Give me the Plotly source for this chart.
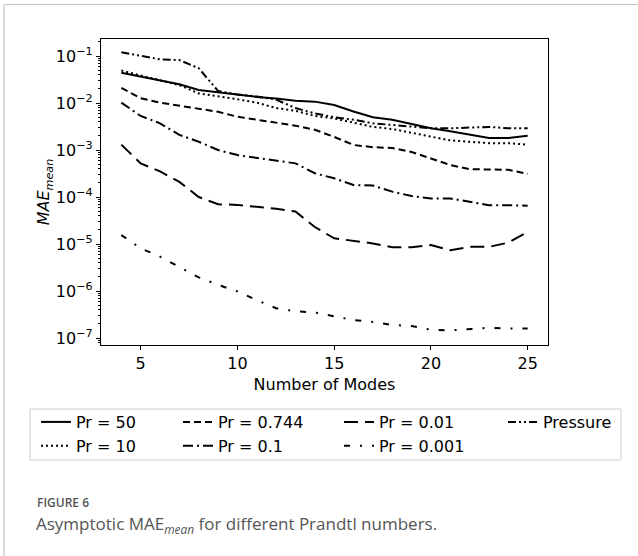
import plotly.graph_objects as go

# ---------------- data ----------------
modes = list(range(4, 26))

pr50 = [0.044, 0.036, 0.030, 0.025, 0.019, 0.017, 0.015, 0.0135, 0.0125, 0.0112, 0.0107,
        0.0091, 0.0066, 0.0050, 0.0044, 0.0036, 0.0029, 0.0025, 0.0021, 0.0018, 0.0018, 0.0020]
pr10 = [0.049, 0.039, 0.031, 0.024, 0.016, 0.014, 0.012, 0.0102, 0.0078, 0.0068, 0.0053,
        0.0047, 0.0038, 0.0031, 0.0028, 0.0023, 0.0019, 0.0016, 0.0015, 0.0014, 0.0014, 0.0013]
pr0744 = [0.021, 0.0126, 0.0102, 0.0087, 0.0077, 0.0065, 0.0051, 0.0044, 0.0037, 0.0033, 0.0027,
          0.0019, 0.00128, 0.00115, 0.0011, 0.00091, 0.00066, 0.00048, 0.00039, 0.00038, 0.00038, 0.00031]
pr01 = [0.0102, 0.0053, 0.0037, 0.0021, 0.0015, 0.0010, 0.00078, 0.00068, 0.00058, 0.00052, 0.00032,
        0.00025, 0.00018, 0.000175, 0.00013, 0.000105, 0.000093, 0.000093, 0.000079, 0.000067, 0.000067, 0.000065]
pr001 = [0.0013, 0.00052, 0.00035, 0.00021, 0.0001, 0.00007, 0.000068, 0.000062, 0.000056, 0.000049, 0.000023,
         0.0000132, 0.0000117, 0.0000103, 0.0000085, 0.0000085, 0.0000095, 0.0000074, 0.0000087, 0.0000087,
         0.0000107, 0.000018]
pr0001 = [1.55e-5, 8.1e-6, 5.4e-6, 3.3e-6, 1.95e-6, 1.35e-6, 9.8e-7, 6.4e-7, 4.3e-7, 3.7e-7, 3.5e-7,
          2.9e-7, 2.4e-7, 2.2e-7, 1.9e-7, 1.8e-7, 1.5e-7, 1.45e-7, 1.52e-7, 1.65e-7, 1.6e-7, 1.6e-7]
pressure = [0.12, 0.10, 0.085, 0.082, 0.055, 0.018, 0.0152, 0.0137, 0.0118, 0.0078, 0.006,
            0.005, 0.0044, 0.0037, 0.0034, 0.0031, 0.0029, 0.0029, 0.0030, 0.0031, 0.0029, 0.0029]

series_names = ["Pr = 50", "Pr = 10", "Pr = 0.744", "Pr = 0.1", "Pr = 0.01", "Pr = 0.001", "Pressure"]
series_values = [pr50, pr10, pr0744, pr01, pr001, pr0001, pressure]

x_tickvals = [5, 10, 15, 20, 25]
y_tickvals = [1e-7, 1e-6, 1e-5, 1e-4, 1e-3, 1e-2, 1e-1]
y_ticktext = ["10<sup>\u22127</sup>", "10<sup>\u22126</sup>", "10<sup>\u22125</sup>", "10<sup>\u22124</sup>",
              "10<sup>\u22123</sup>", "10<sup>\u22122</sup>", "10<sup>\u22121</sup>"]

# ---------------- styles ----------------
dashes = ["solid", "2px,3px", "7px,4px", "10px,4px,2px,4px", "14px,7px",
          "6px,10px,2px,10px", "8px,3px,2px,3px,2px,3px"]
legend_ids = ["legend", "legend", "legend2", "legend2", "legend3", "legend3", "legend4"]

W, H = 638, 556
L, R, T, B = 101, 548, 39, 345
PW, PH = R - L, B - T


def px_x(px):
    return (px - L) / PW


def px_y(py):
    return (B - py) / PH


FONT = "DejaVu Sans"
FS = 16

fig = go.Figure()
for name, vals, dash, leg in zip(series_names, series_values, dashes, legend_ids):
    fig.add_trace(go.Scatter(
        x=modes, y=vals, mode="lines", name=name, legend=leg,
        line=dict(color="black", width=2, dash=dash),
    ))

leg_common = dict(
    orientation="v", xanchor="left", yanchor="top",
    bgcolor="rgba(0,0,0,0)", borderwidth=0,
    font=dict(family=FONT, size=FS, color="black"),
    tracegroupgap=0, y=px_y(405),
)

fig.update_layout(
    width=W, height=H,
    margin=dict(l=L, r=W - R, t=T, b=H - B, autoexpand=False),
    paper_bgcolor="white", plot_bgcolor="white",
    font=dict(family=FONT, size=FS, color="black"),
    showlegend=True,
    legend=dict(x=px_x(36), **leg_common),
    legend2=dict(x=px_x(178), **leg_common),
    legend3=dict(x=px_x(339), **leg_common),
    legend4=dict(x=px_x(503), **leg_common),
    xaxis=dict(
        range=[2.95, 26.05], tickvals=x_tickvals, ticks="outside", ticklen=4,
        tickwidth=1, tickcolor="black", showgrid=False, zeroline=False,
        showline=True, linecolor="black", linewidth=1.2, mirror=True,
        tickfont=dict(family=FONT, size=FS),
        title=dict(text="Number of Modes", font=dict(family=FONT, size=FS), standoff=6),
    ),
    yaxis=dict(
        type="log", range=[-7.149, -0.638], tickvals=y_tickvals, ticktext=y_ticktext,
        ticks="outside", ticklen=4, tickwidth=1, tickcolor="black",
        minor=dict(ticks="outside", ticklen=2, tickcolor="black", dtick="D1", showgrid=False),
        showgrid=False, zeroline=False,
        showline=True, linecolor="black", linewidth=1.2, mirror=True,
        tickfont=dict(family=FONT, size=FS),
        title=dict(text="<i>MAE</i><sub><i>mean</i></sub>", font=dict(family=FONT, size=FS), standoff=0),
    ),
    shapes=[
        dict(type="rect", xref="paper", yref="paper",
             x0=px_x(30), x1=px_x(621), y0=px_y(460), y1=px_y(409),
             line=dict(color="#cccccc", width=1), fillcolor="rgba(0,0,0,0)", layer="below"),
        dict(type="line", xref="paper", yref="paper",
             x0=px_x(4), x1=px_x(4), y0=px_y(4.5), y1=px_y(560),
             line=dict(color="#c4c4c4", width=1.2)),
        dict(type="line", xref="paper", yref="paper",
             x0=px_x(4), x1=px_x(640), y0=px_y(4.5), y1=px_y(4.5),
             line=dict(color="#c4c4c4", width=1.2)),
    ],
    annotations=[
        dict(text="FIGURE 6", xref="paper", yref="paper", x=px_x(35), y=px_y(502),
             xanchor="left", yanchor="middle", showarrow=False,
             font=dict(family="Open Sans", size=12, color="#555555", weight=600)),
        dict(text="Asymptotic MAE<sub><i>mean</i></sub> for different Prandtl numbers.",
             xref="paper", yref="paper", x=px_x(34), y=px_y(524),
             xanchor="left", yanchor="middle", showarrow=False,
             font=dict(family="Open Sans", size=17, color="#555555")),
    ],
)

fig.write_html("out.html", config={"displayModeBar": False},
               post_script="document.body.style.margin='0px';document.body.style.padding='0px';")
